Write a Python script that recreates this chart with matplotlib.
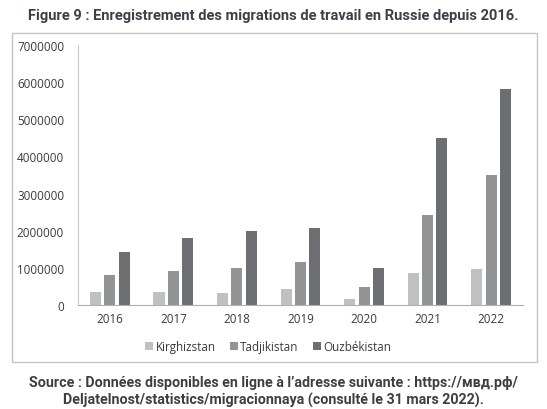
import matplotlib
matplotlib.use("Agg")
import matplotlib.pyplot as plt
from matplotlib.patches import Rectangle
import numpy as np

years = ["2016", "2017", "2018", "2019", "2020", "2021", "2022"]
series_names = ["Kirghizstan", "Tadjikistan", "Ouzbékistan"]
kirghizstan = [340000, 350000, 330000, 430000, 170000, 860000, 970000]
tadjikistan = [820000, 915000, 1000000, 1160000, 490000, 2410000, 3500000]
ouzbekistan = [1440000, 1800000, 1990000, 2080000, 1000000, 4500000, 5810000]
yticks = [0, 1000000, 2000000, 3000000, 4000000, 5000000, 6000000, 7000000]
colors = ["#bfc0c2", "#939496", "#6d6e71"]

title = "Figure 9 : Enregistrement des migrations de travail en Russie depuis 2016."
source = ("Source : Données disponibles en ligne à l\u2019adresse suivante : https://мвд.рф/\n"
          "Deljatelnost/statistics/migracionnaya (consulté le 31 mars 2022).")

fig = plt.figure(figsize=(5.47, 4.10), dpi=100)
ax = fig.add_axes([0.1426, 0.2537, 0.8135, 0.6341])

x = np.arange(len(years))
bw = 0.175
step = 0.225
for i, (vals, c, name) in enumerate(zip([kirghizstan, tadjikistan, ouzbekistan], colors, series_names)):
    ax.bar(x + (i - 1) * step, vals, width=bw, color=c, label=name, zorder=2)

ax.set_xlim(-0.5, len(years) - 0.5)
ax.set_ylim(0, 7000000)
ax.set_yticks(yticks)
ax.set_yticklabels([str(v) for v in yticks])
ax.set_xticks(x)
ax.set_xticklabels(years)
tick_font = ["Open Sans", "DejaVu Sans"]
for lab in ax.get_yticklabels() + ax.get_xticklabels():
    lab.set_fontfamily(tick_font)
    lab.set_fontsize(8.4)
    lab.set_color("#3a3a3a")
ax.tick_params(axis="both", length=0, pad=5)
ax.tick_params(axis="y", pad=10)
for s in ["top", "right"]:
    ax.spines[s].set_visible(False)
ax.spines["left"].set_color("#c8c8c8")
ax.spines["bottom"].set_color("#b0b0b0")
ax.spines["left"].set_linewidth(0.8)
ax.spines["bottom"].set_linewidth(0.8)
ax.set_facecolor("none")

leg = fig.legend(loc="center", bbox_to_anchor=(0.49, 0.152), ncol=3, frameon=False,
                 prop={"family": tick_font, "size": 8.4}, handlelength=0.7, handleheight=0.7,
                 handletextpad=0.2, columnspacing=1.2)
for t in leg.get_texts():
    t.set_color("#3a3a3a")

# chart frame
fig.patches.append(Rectangle((12 / 547, 1 - 363 / 410), (537 - 12) / 547, (363 - 34) / 410,
                             transform=fig.transFigure, fill=False, edgecolor="#c4c4c4",
                             linewidth=1.0, zorder=0))

head_font = ["Roboto", "DejaVu Sans"]
t1 = fig.text(0.5, 1 - 16 / 410, title, ha="center", va="center", fontsize=10, fontweight="bold",
              family=head_font, color="#3b4048")
t2 = fig.text(0.5, 1 - 392 / 410, source, ha="center", va="center", fontsize=9, fontweight="bold",
              family=head_font, color="#3f3f3f", linespacing=1.2)

# fit text widths to the reference
renderer = fig.canvas.get_renderer()
for txt, target in [(t1, 492.0), (t2, 489.0)]:
    w = txt.get_window_extent(renderer).width
    txt.set_fontsize(txt.get_fontsize() * target / w)

fig.savefig("out.png", dpi=100)
